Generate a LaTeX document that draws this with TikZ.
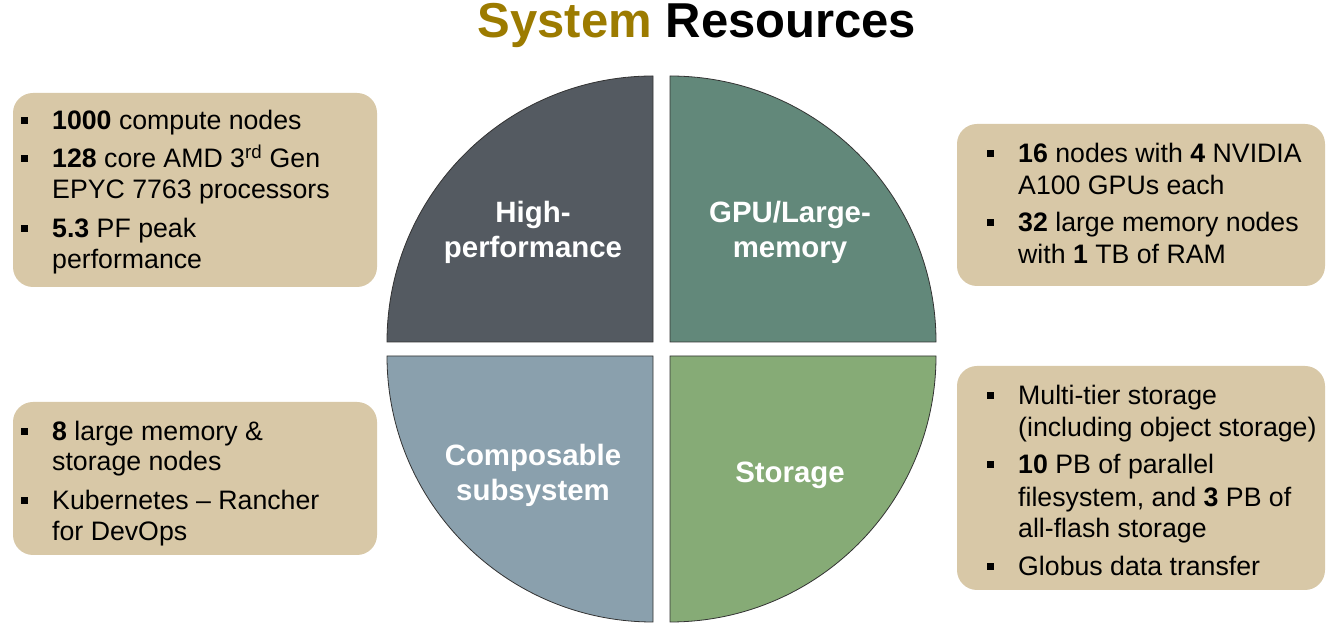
\documentclass[tikz,border=0pt]{standalone}
\usepackage{fontspec}
\setmainfont{Liberation Sans}
\definecolor{qtl}{HTML}{545A61}
\definecolor{qtr}{HTML}{62887A}
\definecolor{qbl}{HTML}{8AA0AD}
\definecolor{qbr}{HTML}{86AB76}
\definecolor{boxtan}{HTML}{D8C8A7}
\definecolor{titlegold}{HTML}{9C7B00}
\begin{document}
\begin{tikzpicture}[x=1pt,y=1pt,
  quad/.style={draw=black!80, line width=0.8pt},
  infobox/.style={fill=boxtan, draw=none, rounded corners=20pt, inner sep=0pt},
  ln/.style={anchor=base west, inner sep=0pt, font=\fontsize{26.7}{32}\selectfont},
  bul/.style={fill=black, draw=none, minimum size=7pt, inner sep=0pt},
  ql/.style={anchor=base, inner sep=0pt, text=white, font=\fontsize{29.4}{35}\selectfont\bfseries}]
\useasboundingbox (0,0) rectangle (1340,626);
\fill[white] (0,0) rectangle (1340,626);

% title
\node[anchor=base, inner sep=0pt, font=\fontsize{49}{58}\selectfont\bfseries] (title) at (697,588)
  {\textcolor{titlegold}{System} Resources};

% quadrants
\path[quad, fill=qtl] (653,284) -- ++(-266,0) arc[start angle=180, end angle=90, radius=266pt] -- cycle;
\path[quad, fill=qtr] (670,284) -- ++(266,0) arc[start angle=0, end angle=90, radius=266pt] -- cycle;
\path[quad, fill=qbl] (653,270) -- ++(-266,0) arc[start angle=180, end angle=270, radius=266pt] -- cycle;
\path[quad, fill=qbr] (670,270) -- ++(266,0) arc[start angle=0, end angle=-90, radius=266pt] -- cycle;

% quadrant labels
\node[ql] (q1a) at (533,403) {High-};
\node[ql] (q1b) at (533,368) {performance};
\node[ql] (q2a) at (790,403) {GPU/Large-};
\node[ql] (q2b) at (790,368) {memory};
\node[ql] (q3a) at (533,160) {Composable};
\node[ql] (q3b) at (533,125) {subsystem};
\node[ql] (q4a) at (790,143) {Storage};

% info boxes
\node[infobox, minimum width=364pt, minimum height=194pt] (box1) at (195,436) {};
\node[infobox, minimum width=368pt, minimum height=162pt] (box2) at (1141,421) {};
\node[infobox, minimum width=368pt, minimum height=224pt] (box3) at (1141,148) {};
\node[infobox, minimum width=364pt, minimum height=153pt] (box4) at (195,147.5) {};

% box 1
\node[bul] (b1a) at (24,505.5) {};
\node[ln] (t1a) at (52,496) {\textbf{1000} compute nodes};
\node[bul] (b1b) at (24,467.5) {};
\node[ln] (t1b) at (52,458) {\textbf{128} core AMD 3\textsuperscript{rd} Gen};
\node[ln] (t1c) at (52,427) {EPYC 7763 processors};
\node[bul] (b1c) at (24,397.5) {};
\node[ln] (t1d) at (52,388) {\textbf{5.3} PF peak};
\node[ln] (t1e) at (52,357) {performance};

% box 2
\node[bul] (b2a) at (990,472.5) {};
\node[ln] (t2a) at (1018,463) {\textbf{16} nodes with \textbf{4} NVIDIA};
\node[ln] (t2b) at (1018,431) {A100 GPUs each};
\node[bul] (b2b) at (990,403.5) {};
\node[ln] (t2c) at (1018,394) {\textbf{32} large memory nodes};
\node[ln] (t2d) at (1018,362) {with \textbf{1} TB of RAM};

% box 3
\node[bul] (b3a) at (990,230.5) {};
\node[ln] (t3a) at (1018,221) {Multi-tier storage};
\node[ln] (t3b) at (1018,189) {(including object storage)};
\node[bul] (b3b) at (990,161.5) {};
\node[ln] (t3c) at (1018,152) {\textbf{10} PB of parallel};
\node[ln] (t3d) at (1018,119) {filesystem, and \textbf{3} PB of};
\node[ln] (t3e) at (1018,88) {all-flash storage};
\node[bul] (b3c) at (990,59.5) {};
\node[ln] (t3f) at (1018,50) {Globus data transfer};

% box 4
\node[bul] (b4a) at (24,194.5) {};
\node[ln] (t4a) at (52,185) {\textbf{8} large memory \&};
\node[ln] (t4b) at (52,155) {storage nodes};
\node[bul] (b4b) at (24,125.5) {};
\node[ln] (t4c) at (52,116) {Kubernetes \textendash{} Rancher};
\node[ln] (t4d) at (52,85) {for DevOps};
\end{tikzpicture}
\end{document}
